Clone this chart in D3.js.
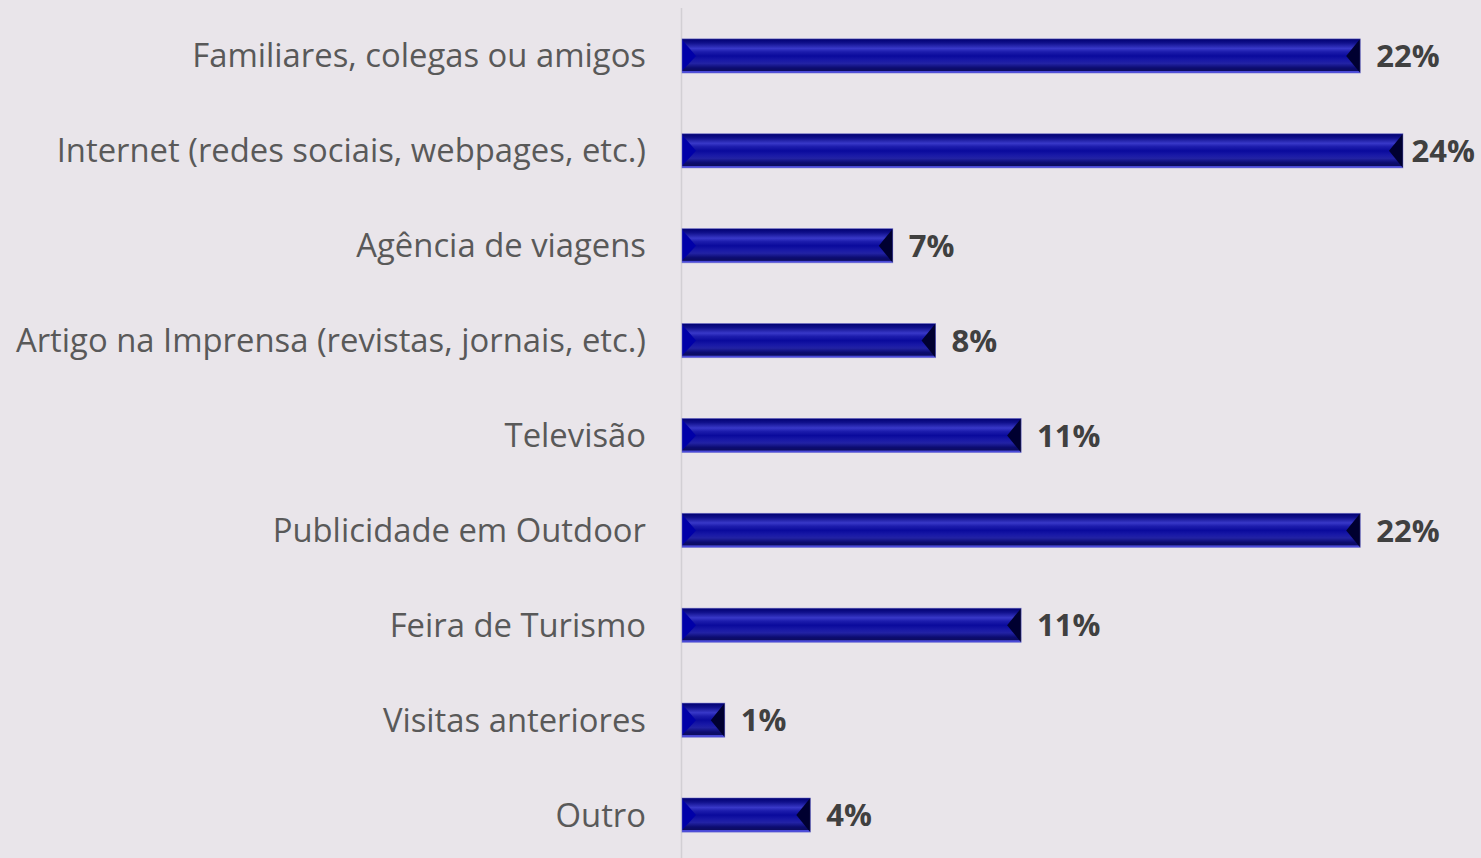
<!DOCTYPE html>
<html><head><meta charset="utf-8">
<script src="https://cdn.jsdelivr.net/npm/d3@7"></script>
<style>html,body{margin:0;padding:0;background:#E9E5EA;overflow:hidden}</style>
</head><body>
<svg id="c" width="1481" height="858"></svg>
<script>
const categories = ["Familiares, colegas ou amigos","Internet (redes sociais, webpages, etc.)","Agência de viagens","Artigo na Imprensa (revistas, jornais, etc.)","Televisão","Publicidade em Outdoor","Feira de Turismo","Visitas anteriores","Outro"];
const values = [22.2, 23.6, 6.9, 8.3, 11.1, 22.2, 11.1, 1.4, 4.2];
const xDomain = [0, 25];

const W = 1481, H = 858;
const svg = d3.select("#c");
svg.append("rect").attr("width",W).attr("height",H).attr("fill","#E9E5EA");

const x = d3.scaleLinear().domain(xDomain).range([682, 682 + 25*30.55]);
const y = d3.scaleBand().domain(categories).range([8.5, 862.5]).paddingInner(0.64).paddingOuter(0.32);

const defs = svg.append("defs");
const g = defs.append("linearGradient").attr("id","bg").attr("x1",0).attr("y1",0).attr("x2",0).attr("y2",1);
[[0,"#000070"],[0.12,"#10108c"],[0.28,"#3838c8"],[0.38,"#1c1cac"],[0.5,"#0a0a9c"],[0.62,"#1818a6"],[0.72,"#2222a4"],[0.85,"#0c0c70"],[0.93,"#0c0c60"],[0.95,"#4a4ad8"],[1,"#4a4ad8"]]
  .forEach(([o,c])=>g.append("stop").attr("offset",o).attr("stop-color",c));

// axis line
svg.append("line").attr("x1",681.5).attr("x2",681.5).attr("y1",8).attr("y2",H).attr("stroke","#d2cfd4").attr("stroke-width",1.5);

const bars = svg.append("g");
categories.forEach((c,i)=>{
  const x0 = x(0), x1 = x(values[i]), y0 = y(c), h = y.bandwidth(), y1 = y0 + h;
  const bev = Math.min(14, (x1-x0)/2);
  bars.append("rect").attr("x",x0).attr("y",y0).attr("width",x1-x0).attr("height",h).attr("fill","url(#bg)");
  bars.append("path").attr("d",`M${x0},${y0+1}L${x0+bev},${y0+h/2}L${x0},${y1-2}Z`).attr("fill","#0000a8");
  bars.append("path").attr("d",`M${x1},${y0}L${x1-bev},${y0+h/2}L${x1},${y1}Z`).attr("fill","#000030");
  bars.append("rect").attr("x",x0).attr("y",y0).attr("width",x1-x0).attr("height",h).attr("fill","none").attr("stroke","#6a6ad0").attr("stroke-width",0.8).attr("opacity",0.6);
});

// category labels
svg.append("g").selectAll("text").data(categories).join("text")
  .attr("x",646).attr("y",d=>y(d)+y.bandwidth()/2).attr("dy","0.35em")
  .attr("text-anchor","end").attr("font-family","'Open Sans'").attr("font-size",32.8)
  .attr("fill","#595959").text(d=>d);

// value labels
const fmt = v => Math.round(v) + "%";
svg.append("g").selectAll("text").data(values).join("text")
  .attr("y",(d,i)=>y(categories[i])+y.bandwidth()/2).attr("dy","0.36em")
  .attr("font-family","'Open Sans'").attr("font-weight","bold").attr("font-size",31)
  .attr("fill","#404040").text(fmt)
  .each(function(d){
    const w = this.getComputedTextLength();
    d3.select(this).attr("x", Math.min(x(d)+16, W-6-w));
  });
</script>
</body></html>
